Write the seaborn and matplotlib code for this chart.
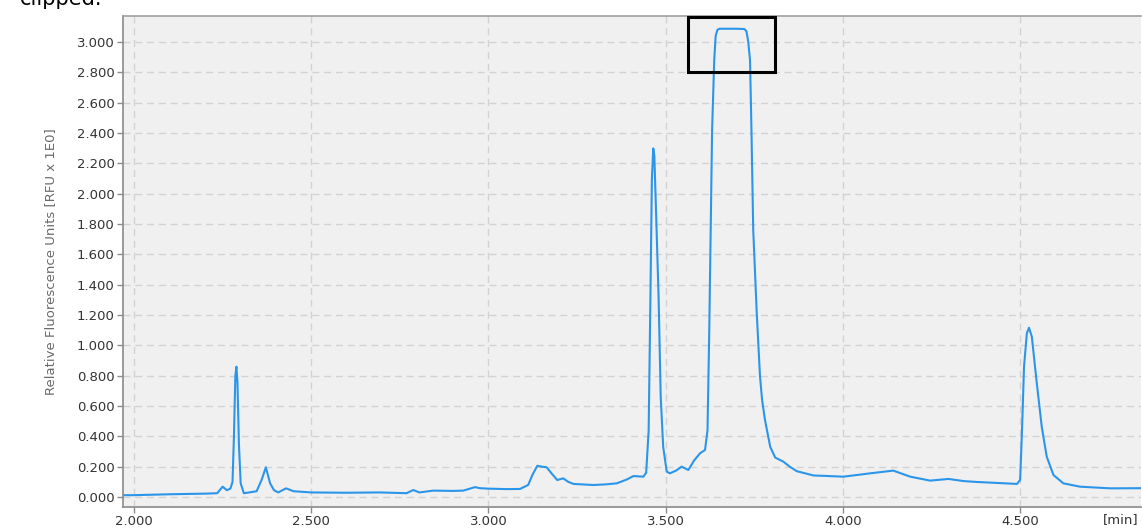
import matplotlib
matplotlib.use("Agg")
import matplotlib.pyplot as plt
import matplotlib.patches as patches
from matplotlib.ticker import FormatStrFormatter
import seaborn as sns

# retention time [min]
time_min = [
    1.969, 2.000, 2.050, 2.100, 2.150, 2.200, 2.235, 2.250, 2.262, 2.272,
    2.278, 2.282, 2.286, 2.289, 2.292, 2.296, 2.301, 2.310, 2.325, 2.346,
    2.360, 2.372, 2.384, 2.395, 2.407, 2.429, 2.450, 2.500, 2.600, 2.694,
    2.769, 2.788, 2.805, 2.844, 2.900, 2.929, 2.962, 2.976, 3.000, 3.050,
    3.089, 3.112, 3.125, 3.138, 3.150, 3.164, 3.180, 3.194, 3.211, 3.225,
    3.240, 3.296, 3.330, 3.362, 3.390, 3.409, 3.437, 3.445, 3.452, 3.457,
    3.461, 3.465, 3.468, 3.473, 3.480, 3.486, 3.493, 3.503, 3.512, 3.530,
    3.545, 3.564, 3.580, 3.597, 3.611, 3.618, 3.623, 3.627, 3.631, 3.637,
    3.641, 3.646, 3.652, 3.700, 3.722, 3.728, 3.733, 3.738, 3.742, 3.747,
    3.757, 3.766, 3.772, 3.780, 3.795, 3.809, 3.832, 3.850, 3.870, 3.917,
    3.960, 4.001, 4.040, 4.077, 4.142, 4.190, 4.246, 4.298, 4.340, 4.378,
    4.440, 4.491, 4.500, 4.505, 4.511, 4.519, 4.525, 4.533, 4.547, 4.561,
    4.575, 4.594, 4.622, 4.669, 4.754, 4.841,
]
# relative fluorescence units
rfu = [
    0.012, 0.012, 0.015, 0.018, 0.020, 0.022, 0.025, 0.068, 0.045, 0.055,
    0.100, 0.400, 0.800, 0.859, 0.750, 0.350, 0.090, 0.025, 0.030, 0.038,
    0.112, 0.196, 0.090, 0.045, 0.030, 0.057, 0.038, 0.030, 0.028, 0.030,
    0.025, 0.046, 0.030, 0.042, 0.040, 0.042, 0.065, 0.058, 0.055, 0.052,
    0.053, 0.079, 0.150, 0.206, 0.200, 0.196, 0.150, 0.112, 0.123, 0.100,
    0.086, 0.079, 0.083, 0.090, 0.115, 0.138, 0.134, 0.160, 0.440, 1.320,
    2.090, 2.298, 2.250, 1.870, 1.320, 0.660, 0.330, 0.167, 0.156, 0.175,
    0.200, 0.178, 0.240, 0.288, 0.310, 0.440, 1.100, 1.760, 2.420, 2.880,
    3.040, 3.080, 3.087, 3.087, 3.085, 3.070, 3.000, 2.880, 2.420, 1.760,
    1.210, 0.800, 0.640, 0.510, 0.330, 0.260, 0.233, 0.200, 0.170, 0.142,
    0.138, 0.134, 0.145, 0.156, 0.174, 0.134, 0.108, 0.119, 0.105, 0.099,
    0.092, 0.086, 0.112, 0.420, 0.860, 1.080, 1.116, 1.057, 0.750, 0.463,
    0.266, 0.145, 0.090, 0.068, 0.057, 0.058,
]

x_ticks = [2.0, 2.5, 3.0, 3.5, 4.0, 4.5]
y_ticks = [round(0.2 * i, 1) for i in range(16)]
clip_box = (3.563, 2.802, 3.809, 3.164)  # x0, y0, x1, y1 of the marked clipped region

sns.set_theme(style="whitegrid")
plt.rcParams['font.family'] = ['DejaVu Sans']

fig = plt.figure(figsize=(11.42, 5.29), dpi=100)
ax = fig.add_axes([123 / 1142, 1 - 507 / 529, (1141 - 123) / 1142, (507 - 16) / 529])
ax.set_facecolor('#f0f0f0')

sns.lineplot(x=time_min, y=rfu, ax=ax, color='#2b95ea', linewidth=1.5, sort=False)

ax.set_xlim(1.969, 4.841)
ax.set_ylim(-0.066, 3.171)
ax.set_xticks(x_ticks)
ax.set_yticks(y_ticks)
ax.xaxis.set_major_formatter(FormatStrFormatter('%.3f'))
ax.yaxis.set_major_formatter(FormatStrFormatter('%.3f'))

ax.grid(True, color='#d2d2d2', linestyle=(0, (5, 3.5)), linewidth=1.0)
ax.set_axisbelow(True)

for side in ['left', 'bottom']:
    ax.spines[side].set_color('#8a8a8a')
    ax.spines[side].set_linewidth(1.2)
ax.spines['top'].set_color('#a0a0a0')
ax.spines['top'].set_linewidth(1.2)
ax.spines['right'].set_visible(False)

ax.tick_params(axis='both', which='major', length=4, width=1, color='#8a8a8a',
               labelsize=9.5, labelcolor='#333333', pad=2, direction='out',
               left=True, bottom=True)

ax.set_ylabel('Relative Fluorescence Units [RFU x 1E0]', fontsize=9.5, color='#6a6a6a', labelpad=14)
ax.set_xlabel('')

x0, y0, x1, y1 = clip_box
ax.add_patch(patches.Rectangle((x0, y0), x1 - x0, y1 - y0, fill=False,
                               edgecolor='black', linewidth=2.2, zorder=5, clip_on=False))

fig.text(1139 / 1142, 1 - 520 / 529, '[min]', ha='right', va='center', fontsize=9.5, color='#333333')
fig.text(20 / 1142, 1 - 5 / 529, 'clipped.', ha='left', va='baseline', fontsize=15, color='black')

fig.savefig('out.png', dpi=100)
